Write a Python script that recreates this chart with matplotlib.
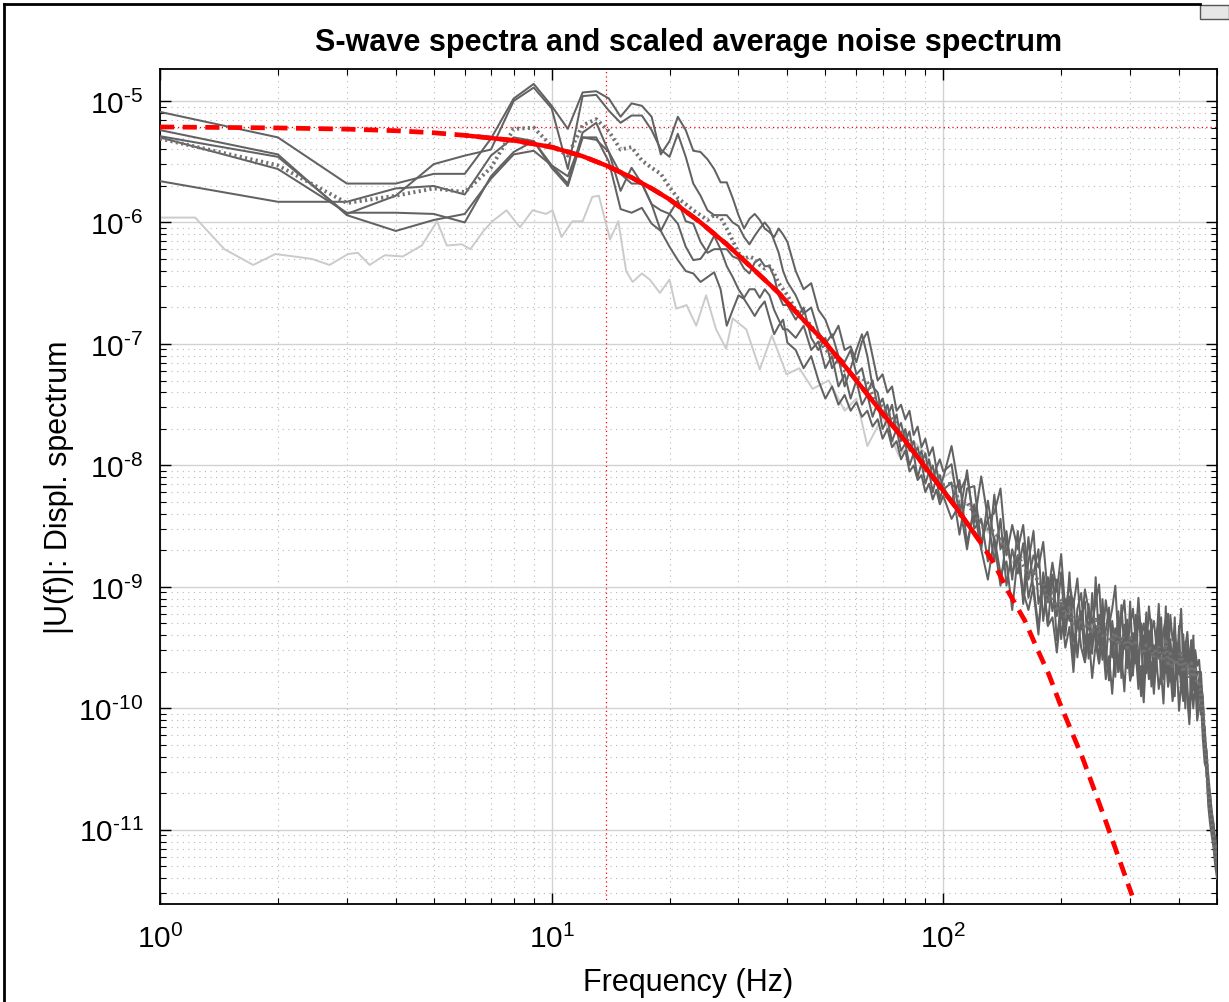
import numpy as np
import matplotlib
matplotlib.use("Agg")
import matplotlib.pyplot as plt
from matplotlib.ticker import LogLocator, FixedLocator, FixedFormatter, NullFormatter
from matplotlib.lines import Line2D
from matplotlib.patches import Rectangle

plt.rcParams['font.family'] = ['Liberation Sans', 'DejaVu Sans']
plt.rcParams['mathtext.fontset'] = 'custom'
plt.rcParams['mathtext.rm'] = 'Liberation Sans'
plt.rcParams['mathtext.it'] = 'Liberation Sans:italic'
plt.rcParams['mathtext.bf'] = 'Liberation Sans:bold'

# ---------------- frequency bins (Hz) ----------------
freq_lo = np.arange(1, 41)
freq_mid = np.arange(42, 101, 2)
freq_hi = np.arange(105, 446, 5)
freq_end = np.arange(450, 501, 5)

# ---------------- S-wave spectra (log10 of |U(f)|) ----------------
s1_lo = [-5.09, -5.30, -5.68, -5.68, -5.60, -5.60, -5.31, -4.98, -4.86, -5.04, -5.23, -4.93, -4.92, -4.98, -5.13, -5.02, -5.04, -5.13, -5.44, -5.33,
         -5.13, -5.24, -5.41, -5.42, -5.48, -5.56, -5.67, -5.67, -5.80, -5.94, -6.05, -5.97, -5.93, -5.98, -6.05, -6.08, -6.12, -6.05, -6.10, -6.16]
s2_lo = [-5.24, -5.44, -5.94, -6.07, -5.98, -5.93, -5.64, -5.44, -5.41, -5.53, -5.68, -5.26, -5.18, -5.42, -5.74, -5.55, -5.68, -5.85, -6.07, -5.93,
         -6.01, -6.20, -6.31, -6.30, -6.22, -6.11, -6.22, -6.36, -6.45, -6.55, -6.62, -6.55, -6.55, -6.62, -6.55, -6.60, -6.72, -6.80, -6.88, -6.88]
s3_lo = [-5.29, -5.46, -5.93, -5.78, -5.52, -5.45, -5.40, -5.00, -4.89, -5.06, -5.56, -4.96, -4.95, -5.08, -5.18, -5.12, -5.12, -5.24, -5.40, -5.46,
         -5.27, -5.46, -5.68, -5.78, -5.90, -5.94, -5.94, -5.94, -6.00, -6.03, -6.12, -6.18, -6.11, -6.05, -6.00, -6.05, -6.15, -6.25, -6.40, -6.49]
s4_lo = [-5.66, -5.83, -5.83, -5.72, -5.70, -5.77, -5.45, -5.30, -5.33, -5.55, -5.70, -5.30, -5.30, -5.50, -5.89, -5.92, -5.88, -6.01, -6.07, -6.20,
         -6.31, -6.40, -6.42, -6.49, -6.45, -6.41, -6.55, -6.85, -6.72, -6.60, -6.63, -6.70, -6.77, -6.70, -6.65, -6.79, -6.92, -6.85, -6.80, -6.99]
s5_lo = [-5.30, -5.56, -5.92, -5.92, -5.93, -6.00, -5.62, -5.42, -5.33, -5.53, -5.62, -5.30, -5.32, -5.42, -5.60, -5.68, -5.68, -5.85, -5.90, -5.93,
         -5.82, -5.99, -6.01, -6.16, -6.25, -6.22, -6.22, -6.22, -6.28, -6.30, -6.38, -6.42, -6.33, -6.30, -6.36, -6.36, -6.45, -6.60, -6.68, -6.68]
mean_lo = [-5.31, -5.53, -5.84, -5.78, -5.72, -5.75, -5.55, -5.23, -5.22, -5.37, -5.45, -5.20, -5.15, -5.25, -5.40, -5.38, -5.49, -5.55, -5.60, -5.71,
           -5.80, -5.85, -5.90, -5.94, -5.98, -5.94, -5.96, -6.05, -6.15, -6.25, -6.30, -6.28, -6.30, -6.35, -6.38, -6.36, -6.42, -6.50, -6.55, -6.60]

s1_mid = [-6.40, -6.55, -6.50, -6.72, -6.80, -6.95, -6.85, -7.05, -7.02, -7.15, -6.98, -6.90, -7.10, -7.30, -7.25,
          -7.40, -7.35, -7.55, -7.50, -7.62, -7.55, -7.75, -7.68, -7.85, -7.78, -7.92, -7.85, -8.02, -7.95, -8.05]
s2_mid = [-6.95, -6.85, -7.05, -6.98, -7.20, -7.10, -7.35, -7.25, -7.45, -7.30, -7.50, -7.42, -7.60, -7.48, -7.70,
          -7.62, -7.80, -7.70, -7.88, -7.82, -8.00, -7.90, -8.10, -7.98, -8.15, -8.05, -8.22, -8.10, -8.28, -8.18]
s3_mid = [-6.60, -6.75, -6.70, -6.90, -7.00, -6.92, -7.10, -7.15, -7.05, -7.25, -7.20, -7.40, -7.30, -7.52, -7.45,
          -7.60, -7.50, -7.72, -7.65, -7.80, -7.72, -7.92, -7.85, -7.98, -7.90, -8.08, -8.00, -8.15, -8.08, -8.20]
s4_mid = [-7.05, -7.20, -7.10, -7.30, -7.45, -7.35, -7.50, -7.42, -7.55, -7.48, -7.60, -7.55, -7.68, -7.62, -7.78,
          -7.70, -7.85, -7.80, -7.95, -7.88, -8.05, -8.00, -8.12, -8.08, -8.22, -8.15, -8.28, -8.20, -8.32, -8.25]
s5_mid = [-6.80, -6.70, -6.95, -7.05, -6.95, -7.20, -7.12, -7.35, -7.20, -7.05, -6.92, -7.10, -7.35, -7.40, -7.60,
          -7.50, -7.68, -7.58, -7.80, -7.70, -7.88, -7.80, -7.95, -7.88, -8.05, -7.95, -8.12, -8.02, -8.18, -8.10]
mean_mid = [-6.72, -6.78, -6.85, -6.95, -7.05, -7.08, -7.15, -7.22, -7.24, -7.28, -7.28, -7.32, -7.42, -7.48, -7.52,
            -7.56, -7.62, -7.66, -7.72, -7.76, -7.82, -7.85, -7.92, -7.94, -8.00, -8.03, -8.08, -8.10, -8.16, -8.16]

s1_hi = [-7.99, -8.42, -8.04, -8.52, -8.44, -8.79, -8.24, -8.69, -8.54, -8.94, -8.54, -9.14, -8.79, -8.54, -9.14, -8.98, -9.32, -8.90,
         -9.24, -8.88, -9.40, -9.08, -9.60, -9.18, -9.05, -9.47, -9.29, -9.55, -8.92, -9.48, -9.25, -9.66, -9.22, -9.43, -9.74, -9.20,
         -9.55, -9.31, -9.67, -9.12, -9.63, -9.43, -9.74, -9.30, -9.55, -9.21, -9.71, -9.42, -9.83, -9.38, -9.29, -9.65, -9.76, -9.16,
         -9.72, -9.53, -9.84, -9.45, -9.71, -9.32, -9.83, -9.54, -10.00, -9.47, -9.68, -9.44, -9.85, -9.62, -10.05]
s2_hi = [-8.29, -8.12, -8.64, -8.37, -8.69, -8.29, -8.64, -8.99, -8.59, -8.89, -8.74, -9.09, -8.59, -9.04, -9.39, -8.88, -9.12, -8.90,
         -9.44, -9.13, -9.35, -8.88, -9.45, -9.33, -9.20, -9.62, -9.14, -9.50, -9.32, -9.63, -9.10, -9.51, -9.77, -9.28, -9.49, -9.25,
         -9.75, -9.36, -9.62, -9.42, -9.73, -9.23, -9.59, -9.90, -9.40, -9.71, -9.36, -9.82, -9.48, -9.63, -9.34, -9.80, -9.51, -9.71,
         -9.22, -9.78, -9.59, -9.90, -9.46, -9.72, -9.58, -9.89, -9.45, -9.82, -10.08, -9.59, -9.75, -9.57, -9.95]
s3_hi = [-8.14, -8.57, -8.19, -8.17, -8.64, -8.44, -8.79, -8.44, -8.99, -8.69, -8.89, -8.64, -9.09, -8.89, -8.69, -9.28, -8.92, -9.20,
         -8.94, -9.43, -9.10, -9.28, -9.10, -9.58, -9.25, -9.12, -9.59, -9.05, -9.47, -9.23, -9.60, -9.36, -9.17, -9.58, -9.34, -9.70,
         -9.15, -9.51, -9.27, -9.77, -9.38, -9.63, -9.24, -9.45, -9.80, -9.36, -9.61, -9.27, -9.73, -9.43, -9.59, -9.25, -9.71, -9.46,
         -9.82, -9.43, -9.64, -9.25, -9.76, -9.57, -9.83, -9.39, -9.75, -9.52, -9.63, -9.89, -9.40, -9.82, -9.70]
s4_hi = [-8.44, -8.32, -8.69, -8.32, -8.69, -8.94, -8.59, -8.89, -8.79, -9.19, -8.74, -9.04, -9.19, -8.99, -9.34, -8.93, -9.32, -9.25,
         -9.54, -9.18, -9.50, -9.33, -9.70, -9.23, -9.50, -9.62, -9.39, -9.75, -9.47, -9.63, -9.40, -9.76, -9.57, -9.88, -9.49, -9.70,
         -9.55, -9.86, -9.42, -9.77, -9.68, -9.53, -9.84, -9.65, -9.95, -9.51, -9.76, -9.62, -9.88, -9.58, -9.84, -9.70, -9.96, -9.51,
         -9.82, -9.68, -9.94, -9.80, -9.66, -10.02, -9.78, -9.94, -9.65, -9.92, -10.13, -9.79, -10.00, -9.77, -10.10]
s5_hi = [-7.84, -8.22, -8.09, -8.47, -8.09, -8.44, -8.39, -8.19, -8.74, -8.49, -8.69, -8.49, -8.94, -8.74, -8.84, -8.63, -9.07, -8.80,
         -9.04, -8.73, -9.20, -8.98, -9.15, -8.93, -9.35, -9.02, -9.19, -9.30, -9.12, -8.98, -9.45, -9.11, -9.32, -9.18, -8.99, -9.45,
         -9.25, -9.11, -9.47, -9.32, -9.18, -9.43, -9.09, -9.40, -9.30, -9.56, -9.16, -9.37, -9.28, -9.48, -9.14, -9.55, -9.36, -9.26,
         -9.62, -9.23, -9.44, -9.35, -9.56, -9.42, -9.18, -9.64, -9.50, -9.37, -9.63, -9.44, -9.75, -9.52, -9.65]
mean_hi = [-8.15, -8.30, -8.30, -8.40, -8.50, -8.52, -8.55, -8.60, -8.72, -8.72, -8.75, -8.82, -8.90, -8.86, -8.97, -8.97, -9.12, -9.05,
           -9.20, -9.10, -9.25, -9.17, -9.30, -9.24, -9.30, -9.34, -9.30, -9.38, -9.25, -9.37, -9.40, -9.38, -9.42, -9.45, -9.38, -9.48,
           -9.40, -9.45, -9.50, -9.42, -9.48, -9.46, -9.50, -9.52, -9.55, -9.48, -9.50, -9.52, -9.58, -9.50, -9.50, -9.60, -9.60, -9.45,
           -9.65, -9.55, -9.65, -9.60, -9.62, -9.65, -9.55, -9.70, -9.62, -9.65, -9.75, -9.63, -9.72, -9.68, -9.80]

s1_end = [-9.85, -9.70, -10.00, -10.30, -10.35, -10.70, -10.75, -11.00, -10.95, -11.20, -11.25]
s2_end = [-9.75, -10.05, -9.95, -10.20, -10.55, -10.60, -10.90, -10.85, -11.10, -11.05, -11.35]
s3_end = [-9.70, -9.90, -10.15, -10.15, -10.40, -10.75, -10.70, -10.95, -11.05, -11.25, -11.20]
s4_end = [-10.00, -9.95, -10.25, -10.45, -10.50, -10.80, -10.95, -11.05, -11.15, -11.30, -11.40]
s5_end = [-9.60, -9.80, -9.90, -10.25, -10.35, -10.55, -10.70, -10.85, -10.95, -11.10, -11.15]
mean_end = [-9.80, -9.88, -10.05, -10.27, -10.43, -10.68, -10.80, -10.94, -11.04, -11.18, -11.27]

# ---------------- scaled average noise spectrum ----------------
noise_f = [1.0, 1.23, 1.46, 1.73, 1.97, 2.2, 2.44, 2.71, 3.02, 3.2, 3.43, 3.75, 4.17, 4.66, 5.1, 5.4, 5.9, 6.2, 6.7, 7.06,
           7.67, 8.3, 8.94, 9.68, 10.05, 10.6, 11.3, 12.0, 12.7, 13.2, 14.1, 14.8, 15.5, 16.1, 17.0, 17.8, 18.9, 20.0, 20.8, 22.1,
           23.4, 24.8, 26.3, 27.9, 29.0, 31.4, 34.0, 36.5, 39.8, 42.9, 46.4, 51, 56, 60, 64, 70, 77, 84, 90, 95,
           100, 105, 110, 120, 130, 140, 150, 160, 170, 180, 190, 200, 220, 240, 260, 280, 300, 320, 340, 360,
           380, 400, 420, 440, 450, 460, 470, 480, 490, 500]
noise_v = [-5.96, -5.96, -6.22, -6.35, -6.26, -6.28, -6.30, -6.35, -6.26, -6.25, -6.35, -6.27, -6.28, -6.19, -5.99, -6.19, -6.18, -6.22, -6.07, -5.99,
           -5.90, -6.04, -5.90, -5.93, -5.90, -6.12, -5.99, -5.99, -5.79, -5.78, -6.14, -5.99, -6.40, -6.49, -6.42, -6.47, -6.58, -6.47, -6.71, -6.68,
           -6.85, -6.60, -6.88, -7.04, -6.79, -6.88, -7.21, -6.93, -7.25, -7.20, -7.37, -7.30, -7.55, -7.45, -7.84, -7.60, -7.92, -7.80, -7.90, -8.05,
           -8.10, -8.05, -8.30, -8.35, -8.55, -8.60, -8.80, -8.75, -9.00, -9.05, -9.10, -9.20, -9.30, -9.35, -9.45, -9.45, -9.50, -9.50, -9.55, -9.55,
           -9.60, -9.65, -9.70, -9.75, -9.85, -10.10, -10.50, -10.80, -11.00, -11.25]

# ---------------- source model (Brune-type fit) ----------------
model_f = [1, 2, 3, 4, 5, 6, 8, 10, 12, 13.8, 16, 18, 20, 24, 28, 32, 38, 43, 50, 57, 68.5, 80, 92, 108, 124,
           135, 146, 161.5, 173, 186, 198, 227, 260, 303.5]
model_v = [-5.214, -5.222, -5.232, -5.245, -5.262, -5.283, -5.325, -5.38, -5.455, -5.532, -5.63, -5.72, -5.81, -6.00, -6.18,
           -6.355, -6.58, -6.77, -6.99, -7.21, -7.535, -7.80, -8.056, -8.35, -8.625, -8.81, -9.03, -9.277, -9.497, -9.72,
           -9.95, -10.41, -10.93, -11.54]
fit_band = (6, 124)
corner_freq = 13.8
omega0_log = -5.214

# ---------------- figure ----------------
fig = plt.figure(figsize=(12.29, 10.03), dpi=100)
ax = fig.add_axes([160 / 1229, 1 - 905 / 1003, (1217 - 160) / 1229, (905 - 70) / 1003])

freq = np.concatenate([freq_lo, freq_mid, freq_hi, freq_end])
spectra = [s1_lo + s1_mid + s1_hi + s1_end,
           s2_lo + s2_mid + s2_hi + s2_end,
           s3_lo + s3_mid + s3_hi + s3_end,
           s4_lo + s4_mid + s4_hi + s4_end,
           s5_lo + s5_mid + s5_hi + s5_end]
mean_spec = mean_lo + mean_mid + mean_hi + mean_end

ax.plot(noise_f, 10.0 ** np.array(noise_v), color='#cbcbcb', lw=1.4, zorder=2)
for s in spectra:
    ax.plot(freq, 10.0 ** np.array(s), color='#626262', lw=1.45, zorder=3)
ax.plot(freq, 10.0 ** np.array(mean_spec), color='#727272', lw=2.8, ls=(0, (0.55, 0.85)), zorder=4)

mf = np.array(model_f)
mv = 10.0 ** np.array(model_v)
ax.plot(mf, mv, color='red', lw=3.4, ls=(0, (3.0, 1.8)), zorder=5)
sel = (mf >= fit_band[0]) & (mf <= fit_band[1])
ax.plot(mf[sel], mv[sel], color='red', lw=3.2, solid_capstyle='butt', zorder=6)

ax.axvline(corner_freq, color='red', lw=0.9, ls=(0, (1, 2.5)), zorder=1)
ax.axhline(10.0 ** omega0_log, color='red', lw=0.9, ls=(0, (1, 2.5)), zorder=1)

ax.set_xscale('log')
ax.set_yscale('log')
ax.set_xlim(1, 500)
ax.set_ylim(10 ** -11.61, 10 ** -4.737)

xt = [1, 10, 100]
ax.xaxis.set_major_locator(FixedLocator(xt))
ax.xaxis.set_major_formatter(FixedFormatter([r'$10^{0}$', r'$10^{1}$', r'$10^{2}$']))
ax.xaxis.set_minor_locator(LogLocator(base=10, subs=np.arange(2, 10)))
ax.xaxis.set_minor_formatter(NullFormatter())
exps = [-11, -10, -9, -8, -7, -6, -5]
ax.yaxis.set_major_locator(FixedLocator([10.0 ** e for e in exps]))
ax.yaxis.set_major_formatter(FixedFormatter(['$10^{\u2010%d}$' % (-e) for e in exps]))
ax.yaxis.set_minor_locator(LogLocator(base=10, subs=np.arange(2, 10), numticks=30))
ax.yaxis.set_minor_formatter(NullFormatter())

ax.grid(True, which='major', color='#d2d2d2', lw=1.0, ls='-', zorder=0)
ax.grid(True, which='minor', color='#b8b8b8', lw=0.8, ls=(0, (1, 4)), zorder=0)
ax.set_axisbelow(True)

ax.tick_params(which='both', direction='in', top=True, right=True, colors='black', labelsize=21.5)
ax.tick_params(which='major', length=8, width=1.0)
ax.tick_params(axis='x', which='major', pad=14)
ax.tick_params(axis='y', which='major', pad=12)
ax.tick_params(which='minor', length=4, width=0.8)
for sp in ax.spines.values():
    sp.set_linewidth(1.3)
    sp.set_color('black')

ax.set_title('S-wave spectra and scaled average noise spectrum', fontsize=22, fontweight='bold', pad=14)
ax.set_xlabel('Frequency (Hz)', fontsize=22, labelpad=10)
ax.set_ylabel('|U(f)|: Displ. spectrum', fontsize=22, labelpad=3)

# window frame of the screenshot
fig.add_artist(Line2D([4 / 1229, 4 / 1229], [0, 1 - 5 / 1003], transform=fig.transFigure, color='black', lw=2))
fig.add_artist(Line2D([4 / 1229, 1200 / 1229], [1 - 5 / 1003, 1 - 5 / 1003], transform=fig.transFigure, color='black', lw=2))
fig.add_artist(Rectangle((1200 / 1229, 1 - 20 / 1003), 29 / 1229, 14 / 1003, transform=fig.transFigure,
                         facecolor='#e6e6e6', edgecolor='#555555', lw=1))

fig.savefig('out.png', dpi=100)
